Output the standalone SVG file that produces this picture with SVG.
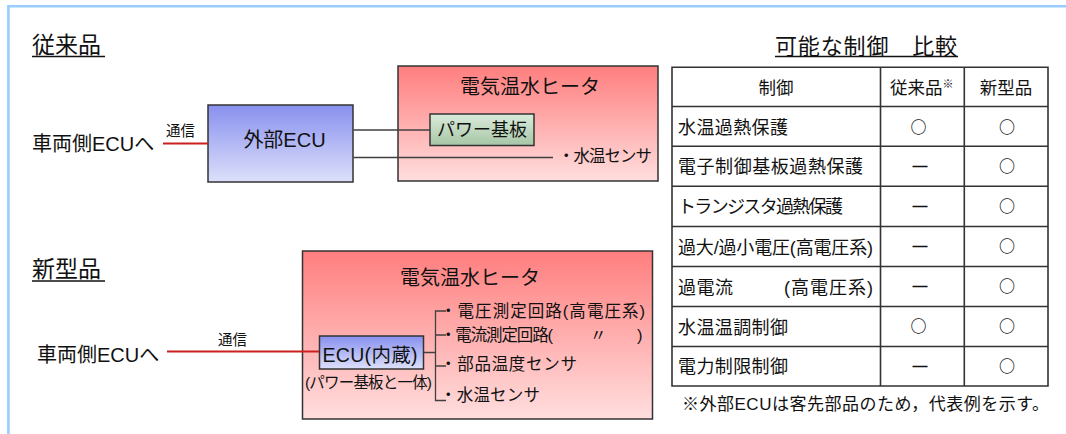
<svg xmlns="http://www.w3.org/2000/svg" width="1066" height="434" viewBox="0 0 1066 434">
<defs>
<style>
text{font-family:"Liberation Sans","Noto Sans CJK JP",sans-serif;fill:#111}
.box{stroke:#333;stroke-width:1.5}
.wire{stroke:#404040;stroke-width:1.3;fill:none}
.red{stroke:#CC2020;stroke-width:2;fill:none}
.grid{stroke:#333;stroke-width:1.6;fill:none}
.ul{stroke:#111;stroke-width:1.5}
.row{font-size:18px}
.mk{font-size:16px;text-anchor:middle;font-family:"Noto Sans CJK JP",sans-serif;font-weight:700}
.ds{font-size:15px;text-anchor:middle;font-family:"Liberation Sans",sans-serif;font-weight:700}
</style>
<linearGradient id="gRed" x1="0" y1="0" x2="0" y2="1"><stop offset="0" stop-color="#FF7E7E"/><stop offset="1" stop-color="#FFDEDE"/></linearGradient>
<linearGradient id="gBlue" x1="0" y1="0" x2="0" y2="1"><stop offset="0" stop-color="#8890EE"/><stop offset="1" stop-color="#DDE0FA"/></linearGradient>
<linearGradient id="gGreen" x1="0" y1="0" x2="0" y2="1"><stop offset="0" stop-color="#DAEBDA"/><stop offset="1" stop-color="#A6C6A6"/></linearGradient>
</defs>
<rect width="1066" height="434" fill="#fff"/>
<path d="M8.4 434 V6.3 H1066" fill="none" stroke="#99CCFF" stroke-width="2.6"/>

<!-- headings -->
<g id="heading-conventional">
<text x="32" y="53" font-size="23">従来品</text>
<line class="ul" x1="32" y1="56.5" x2="105" y2="56.5"/>
</g>
<g id="heading-new">
<text x="32" y="277" font-size="23">新型品</text>
<line class="ul" x1="32" y1="281" x2="105" y2="281"/>
</g>

<!-- conventional -->
<g id="conv-vehicle">
<text x="32" y="151" font-size="20">車両側ECUへ</text>
<text x="166" y="136" font-size="14.5">通信</text>
</g>
<g id="conv-heater">
<rect class="box" x="398" y="66" width="260" height="115" fill="url(#gRed)"/>
<text x="530" y="94" font-size="20" text-anchor="middle">電気温水ヒータ</text>
<text x="558" y="162" font-size="16.5" textLength="94">・水温センサ</text>
</g>
<g id="conv-power-board">
<rect class="box" x="430" y="114" width="104" height="31.5" fill="url(#gGreen)"/>
<text x="482" y="136" font-size="18" text-anchor="middle">パワー基板</text>
</g>
<g id="conv-ext-ecu">
<rect class="box" x="208" y="105" width="145" height="77" fill="url(#gBlue)"/>
<text x="284.5" y="147" font-size="20" text-anchor="middle">外部ECU</text>
</g>

<!-- new -->
<g id="new-vehicle">
<text x="37" y="362" font-size="20">車両側ECUへ</text>
<text x="218" y="345" font-size="14.5">通信</text>
</g>
<g id="new-heater">
<rect class="box" x="302.5" y="251" width="350" height="168" fill="url(#gRed)"/>
<text x="470" y="285" font-size="20" text-anchor="middle">電気温水ヒータ</text>
<text x="305" y="388" font-size="15.5" textLength="127">(パワー基板と一体)</text>
<text x="440" y="317" font-size="16.5" textLength="205">・電圧測定回路(高電圧系)</text>
<text x="440" y="341" font-size="16.5"><tspan textLength="113">・電流測定回路(</tspan><tspan x="590">〃</tspan><tspan x="637">)</tspan></text>
<text x="440" y="370" font-size="16.5" textLength="137">・部品温度センサ</text>
<text x="440" y="401" font-size="16.5" textLength="100">・水温センサ</text>
</g>
<g id="new-ecu">
<rect class="box" x="319.5" y="336" width="104" height="33" fill="url(#gBlue)"/>
<text x="322.5" y="362" font-size="19.5" textLength="95">ECU(内蔵)</text>
</g>

<!-- connectors -->
<g id="connectors">
<line class="red" x1="163" y1="143.5" x2="208" y2="143.5"/>
<line class="wire" x1="353.5" y1="130" x2="430" y2="130"/>
<line class="wire" x1="353.5" y1="157.5" x2="553" y2="157.5"/>
<line class="red" x1="167" y1="351.5" x2="319" y2="351.5"/>
<path class="wire" d="M424 352.5 H435.5 M446 311 H435.5 V400.5 H446 M435.5 335 H446 M435.5 366 H446"/>
</g>

<!-- table -->
<g id="table">
<text x="775" y="53.5" font-size="22" textLength="182">可能な制御　比較</text>
<line class="ul" x1="775" y1="56.5" x2="958" y2="56.5"/>
<path class="grid" d="M672 67.3 H1048 V386 H672 Z M880.5 67.3 V386 M964.3 67.3 V386 M672 106.5 H1048 M672 146.3 H1048 M672 186.3 H1048 M672 226.5 H1048 M672 266.5 H1048 M672 306.5 H1048 M672 346.5 H1048"/>
<text x="776" y="94" font-size="17.5" text-anchor="middle">制御</text>
<text x="890" y="94" font-size="17.5">従来品<tspan font-size="11" dy="-6">※</tspan></text>
<text x="1006" y="94" font-size="17.5" text-anchor="middle">新型品</text>

<text class="row" x="678" y="133.5" textLength="110">水温過熱保護</text>
<text class="row" x="678" y="173.3" textLength="185">電子制御基板過熱保護</text>
<text class="row" x="678" y="213.3" textLength="165">トランジスタ過熱保護</text>
<text class="row" x="678" y="253.5" textLength="195">過大/過小電圧(高電圧系)</text>
<text class="row" x="678" y="293.5" textLength="55">過電流</text>
<text class="row" x="784" y="293.5" textLength="89">(高電圧系)</text>
<text class="row" x="678" y="333.5" textLength="110">水温温調制御</text>
<text class="row" x="678" y="373.3" textLength="110">電力制限制御</text>

<text class="mk" x="918.5" y="132.5">○</text><text class="mk" x="1007" y="132.5">○</text>
<text class="ds" x="920" y="171">—</text><text class="mk" x="1007" y="172">○</text>
<text class="ds" x="920" y="211">—</text><text class="mk" x="1007" y="212">○</text>
<text class="ds" x="920" y="251">—</text><text class="mk" x="1007" y="252">○</text>
<text class="ds" x="920" y="291">—</text><text class="mk" x="1007" y="292">○</text>
<text class="mk" x="918.5" y="332">○</text><text class="mk" x="1007" y="332">○</text>
<text class="ds" x="920" y="371">—</text><text class="mk" x="1007" y="372">○</text>

<text x="682" y="410" font-size="17" textLength="367">※外部ECUは客先部品のため，代表例を示す。</text>
</g>
</svg>
